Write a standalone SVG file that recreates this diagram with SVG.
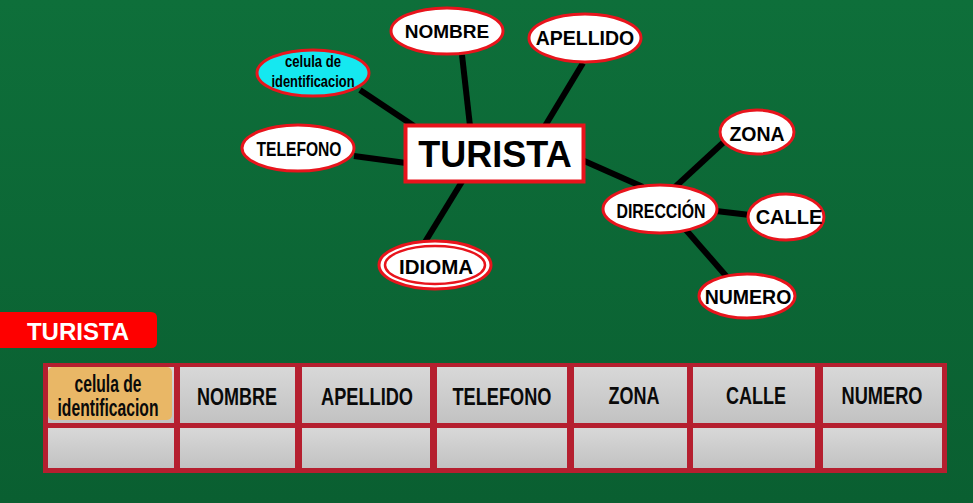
<svg xmlns="http://www.w3.org/2000/svg" width="973" height="503" viewBox="0 0 973 503">
<defs>
<linearGradient id="bg" x1="0" y1="0" x2="0" y2="1">
<stop offset="0" stop-color="#0e6f3a"/>
<stop offset="1" stop-color="#0a5f31"/>
</linearGradient>
<linearGradient id="cell" x1="0" y1="0" x2="0" y2="1">
<stop offset="0" stop-color="#d8d8d8"/>
<stop offset="1" stop-color="#c2c2c2"/>
</linearGradient>
<style>
.ell{fill:#fff;stroke:#e8141c;stroke-width:3}
.lbl{font-family:"Liberation Sans",Arial,sans-serif;font-weight:bold;fill:#000;text-anchor:middle}
.cn{stroke:#000;stroke-width:6;stroke-linecap:butt;fill:none}
.cell{fill:url(#cell)}
.th{font-family:"Liberation Sans",Arial,sans-serif;font-weight:bold;fill:#0a0a0a;text-anchor:middle;font-size:23px}
</style>
</defs>
<rect width="973" height="503" fill="url(#bg)"/>
<g id="connectors">
<line class="cn" x1="360" y1="90" x2="414" y2="126"/>
<line class="cn" x1="462" y1="55" x2="470" y2="126"/>
<line class="cn" x1="583" y1="63" x2="545" y2="126"/>
<line class="cn" x1="354" y1="156" x2="406" y2="163"/>
<line class="cn" x1="582" y1="160" x2="643" y2="187"/>
<line class="cn" x1="463" y1="180" x2="425" y2="242"/>
<line class="cn" x1="726" y1="140" x2="674" y2="188"/>
<line class="cn" x1="716" y1="211" x2="750" y2="215"/>
<line class="cn" x1="686" y1="230" x2="727" y2="277"/>
</g>
<g id="turista">
<rect x="405.5" y="125.5" width="178" height="56" fill="#fff" stroke="#e8141c" stroke-width="4"/>
<text class="lbl" x="495" y="167" font-size="36">TURISTA</text>
</g>
<g id="nombre">
<ellipse class="ell" cx="447" cy="31" rx="56" ry="23"/>
<text class="lbl" x="447" y="38" font-size="19">NOMBRE</text>
</g>
<g id="apellido">
<ellipse class="ell" cx="585" cy="38" rx="56" ry="24"/>
<text class="lbl" x="585" y="45" font-size="19.5">APELLIDO</text>
</g>
<g id="celula">
<ellipse cx="313" cy="73" rx="56" ry="23" fill="#15e8f0" stroke="#e8141c" stroke-width="3"/>
<text class="lbl" x="313" y="67" font-size="16" textLength="56" lengthAdjust="spacingAndGlyphs">celula de</text>
<text class="lbl" x="313" y="87" font-size="16" textLength="83" lengthAdjust="spacingAndGlyphs">identificacion</text>
</g>
<g id="telefono">
<ellipse class="ell" cx="298" cy="148" rx="56" ry="23"/>
<text class="lbl" x="299" y="156" font-size="19.5" textLength="85" lengthAdjust="spacingAndGlyphs">TELEFONO</text>
</g>
<g id="idioma">
<ellipse cx="435" cy="265" rx="56" ry="24" fill="#fff" stroke="#e8141c" stroke-width="3"/>
<ellipse cx="435" cy="265" rx="50" ry="19" fill="none" stroke="#e8141c" stroke-width="2.5"/>
<text class="lbl" x="436" y="274" font-size="20.5">IDIOMA</text>
</g>
<g id="direccion">
<ellipse class="ell" cx="660" cy="209" rx="57" ry="24"/>
<text class="lbl" x="661" y="218" font-size="19.5" textLength="89" lengthAdjust="spacingAndGlyphs">DIRECCIÓN</text>
</g>
<g id="zona">
<ellipse class="ell" cx="757" cy="132" rx="37" ry="22"/>
<text class="lbl" x="757" y="141" font-size="19.5">ZONA</text>
</g>
<g id="calle">
<ellipse class="ell" cx="786" cy="217" rx="38" ry="23"/>
<text class="lbl" x="789" y="224" font-size="20">CALLE</text>
</g>
<g id="numero">
<ellipse class="ell" cx="747" cy="296" rx="48" ry="22"/>
<text class="lbl" x="748" y="304" font-size="19.5">NUMERO</text>
</g>
<g id="tabla">
<path d="M0 312 H151 Q157 312 157 318 V342 Q157 348 151 348 H0 Z" fill="#fe0000"/>
<text x="78" y="340" font-family="Liberation Sans,Arial,sans-serif" font-weight="bold" font-size="24" fill="#fff" text-anchor="middle">TURISTA</text>
<rect x="43" y="363" width="904" height="110" fill="#b51f2f"/>
<rect class="cell" x="48" y="367" width="126" height="56"/>
<rect class="cell" x="180" y="367" width="115" height="56"/>
<rect class="cell" x="302" y="367" width="128" height="56"/>
<rect class="cell" x="437" y="367" width="130" height="56"/>
<rect class="cell" x="574" y="367" width="113" height="56"/>
<rect class="cell" x="693" y="367" width="122" height="56"/>
<rect class="cell" x="823" y="367" width="119" height="56"/>
<rect class="cell" x="48" y="428" width="126" height="40"/>
<rect class="cell" x="180" y="428" width="115" height="40"/>
<rect class="cell" x="302" y="428" width="128" height="40"/>
<rect class="cell" x="437" y="428" width="130" height="40"/>
<rect class="cell" x="574" y="428" width="113" height="40"/>
<rect class="cell" x="693" y="428" width="122" height="40"/>
<rect class="cell" x="823" y="428" width="119" height="40"/>
<rect x="48" y="367" width="124" height="53" rx="5" fill="#e9b766"/>
<text class="th" x="108" y="392" font-size="18" font-weight="normal" textLength="67" lengthAdjust="spacingAndGlyphs">celula de</text>
<text class="th" x="108" y="416" font-size="18" font-weight="normal" textLength="101" lengthAdjust="spacingAndGlyphs">identificacion</text>
<text class="th" x="237" y="405" textLength="80" lengthAdjust="spacingAndGlyphs">NOMBRE</text>
<text class="th" x="367" y="405" textLength="92" lengthAdjust="spacingAndGlyphs">APELLIDO</text>
<text class="th" x="502" y="405" textLength="99" lengthAdjust="spacingAndGlyphs">TELEFONO</text>
<text class="th" x="634" y="404" textLength="51" lengthAdjust="spacingAndGlyphs">ZONA</text>
<text class="th" x="756" y="404" textLength="60" lengthAdjust="spacingAndGlyphs">CALLE</text>
<text class="th" x="882" y="404" textLength="81" lengthAdjust="spacingAndGlyphs">NUMERO</text>
</g>
</svg>
